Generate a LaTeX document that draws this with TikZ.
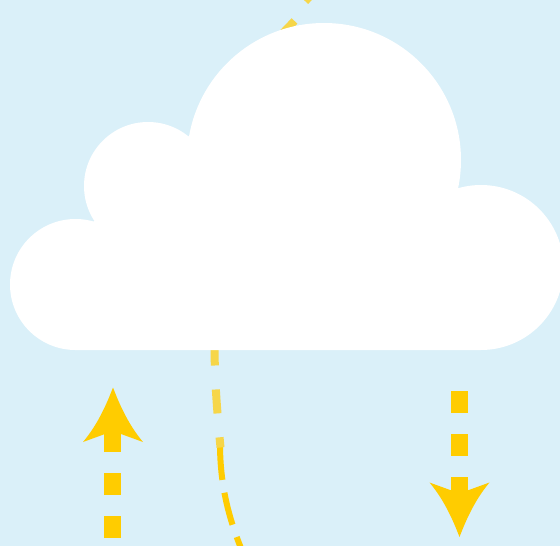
\documentclass[tikz,border=0pt]{standalone}
\usepackage{xcolor}
\usepackage{tikz}
\definecolor{skyBlue}{HTML}{DAF0F9}
\definecolor{rainYellow}{HTML}{FFCC00}
\definecolor{paleYellow}{HTML}{F6D649}

\begin{document}
\begin{tikzpicture}[
    x=1pt, y=-1pt,
    puff/.style={fill=white},
    flowline/.style={rainYellow, line width=17pt, dash pattern=on 22pt off 21pt},
    paleline/.style={paleYellow, line width=8pt},
    thinline/.style={rainYellow, line width=6pt, dash pattern=on 33pt off 13pt},
    pics/bighead/.style={code={
        \fill[rainYellow] (0,0) .. controls (-8,21) and (-17,39) .. (-30,54.5)
            -- (-8,46.5) -- (8,46.5) -- (30,54.5)
            .. controls (17,39) and (8,21) .. (0,0) -- cycle;
    }},
]
    \useasboundingbox (0,0) rectangle (560,546);
    \clip (0,0) rectangle (560,546);

    % Background
    \fill[skyBlue] (0,0) rectangle (560,546);

    % Pale dashes behind the cloud
    \draw[paleline] (283,33) -- (294.5,21);
    \draw[paleline] (305.2,1.2) -- (315,-9);

    % Thin curve
    \draw[thinline] (220,447) .. controls (220.5,480) and (226,515) .. (246,560);
    \draw[paleline, dash pattern=on 24pt off 24pt] (214.5,341.5)
        .. controls (214.5,380) and (217,410) .. (220.5,447.5);

    % Cloud
    \fill[puff] (324,160) circle[radius=137];
    \fill[puff] (148,186) circle[radius=64];
    \fill[puff] (75.5,284.5) circle[radius=65.5];
    \fill[puff] (481,267.5) circle[radius=82.5];
    \fill[puff] (75,350) -- (75,250) -- (93,222) -- (190,135) -- (455,190) -- (481,350) -- cycle;

    % Up arrow
    \draw[flowline] (112.5,538) -- (112.5,430);
    \pic at (113,387.5) {bighead};

    % Down arrow
    \draw[flowline] (459.5,391) -- (459.5,500);
    \pic[rotate=180] at (459.5,537) {bighead};
\end{tikzpicture}
\end{document}
